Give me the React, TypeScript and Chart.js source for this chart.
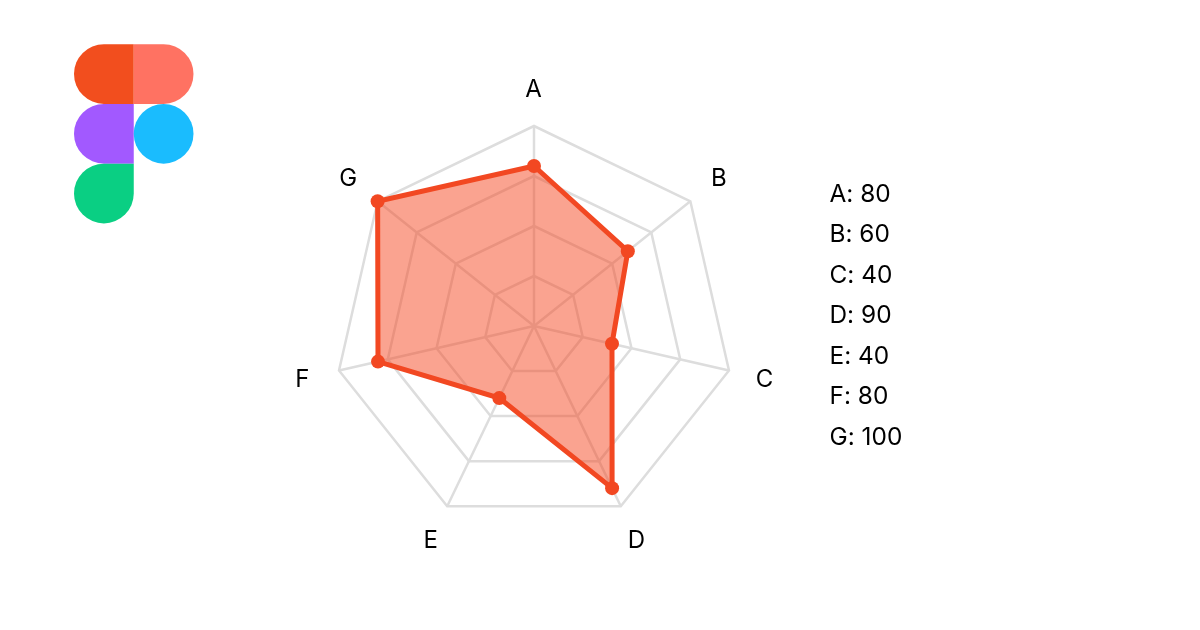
import { useEffect, useRef } from "react";
import { Chart, registerables } from "chart.js";
import type { ChartConfiguration, Plugin } from "chart.js";

Chart.register(...registerables);

const CATEGORIES = ["A", "B", "C", "D", "E", "F", "G"];
const VALUES = [80, 60, 40, 90, 40, 80, 100];
const AXIS_MAX = 100;
const AXIS_STEP = 25;

const FONT = "Inter, 'Noto Sans', sans-serif";
const ORANGE = "#F24822";

// labels sit centred on the spoke, a fixed distance past the outer ring
const LABEL_GAP = 37;
const axisLabels: Plugin<"radar"> = {
  id: "axisLabels",
  afterDraw(chart) {
    const { ctx } = chart;
    const r = chart.scales.r as any;
    ctx.save();
    ctx.font = `24px ${FONT}`;
    ctx.fillStyle = "#000000";
    ctx.textAlign = "center";
    ctx.textBaseline = "middle";
    CATEGORIES.forEach((c, i) => {
      const p = r.getPointPosition(i, r.drawingArea + LABEL_GAP);
      ctx.fillText(c, p.x - 0.5, p.y + 1);
    });
    ctx.restore();
  },
};

function FigmaLogo() {
  // 120x180 viewBox, a cell is 60 units
  return (
    <svg
      width={119.5}
      height={179.5}
      viewBox="0 0 120 180"
      style={{ position: "absolute", left: 74, top: 44 }}
    >
      <path d="M30 0H60V60H30A30 30 0 0 1 30 0Z" fill="#F24E1E" />
      <path d="M60 0H90A30 30 0 0 1 90 60H60Z" fill="#FF7262" />
      <path d="M30 60H60V120H30A30 30 0 0 1 30 60Z" fill="#A259FF" />
      <circle cx={90} cy={90} r={30} fill="#1ABCFE" />
      <path d="M30 120H60V150A30 30 0 1 1 30 120Z" fill="#0ACF83" />
    </svg>
  );
}

export default function App() {
  const canvasRef = useRef<HTMLCanvasElement | null>(null);

  useEffect(() => {
    const config: ChartConfiguration<"radar", number[], string> = {
      type: "radar",
      data: {
        labels: CATEGORIES,
        datasets: [
          {
            data: VALUES,
            borderColor: ORANGE,
            borderWidth: 5,
            backgroundColor: "rgba(245,72,34,0.5)",
            fill: true,
            pointRadius: 7,
            pointBackgroundColor: ORANGE,
            pointBorderWidth: 0,
          },
        ],
      },
      options: {
        responsive: false,
        animation: false,
        layout: { padding: { top: 126, left: 334, right: 466, bottom: 104 } },
        plugins: { legend: { display: false }, tooltip: { enabled: false } },
        scales: {
          r: {
            min: 0,
            max: AXIS_MAX,
            ticks: { display: false, stepSize: AXIS_STEP },
            grid: { color: "#DDDDDD", lineWidth: 2.5 },
            angleLines: { color: "#DDDDDD", lineWidth: 2.5 },
            pointLabels: { display: false },
          },
        },
      },
      plugins: [axisLabels],
    };

    const chart = new Chart(canvasRef.current!, config);
    return () => chart.destroy();
  }, []);

  return (
    <div style={{ position: "fixed", inset: 0, background: "#ffffff", overflow: "hidden" }}>
      <canvas
        ref={canvasRef}
        width={1200}
        height={630}
        style={{ position: "absolute", left: 0, top: 0, width: 1200, height: 630 }}
      />
      <FigmaLogo />
      <div
        style={{
          position: "absolute",
          left: 829.5,
          top: 173,
          fontFamily: FONT,
          fontSize: 24.4,
          fontFeatureSettings: "'calt' 0",
          lineHeight: "40.45px",
          color: "#000000",
        }}
      >
        {CATEGORIES.map((c, i) => (
          <div key={c}>
            {c}: {VALUES[i]}
          </div>
        ))}
      </div>
    </div>
  );
}
